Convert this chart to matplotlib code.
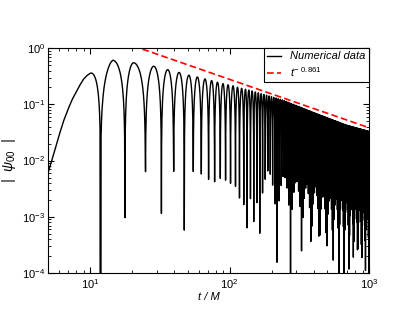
import numpy as np
import matplotlib
matplotlib.use('Agg')
import matplotlib.pyplot as plt

plt.rcParams['font.family'] = ['Liberation Sans', 'DejaVu Sans']
plt.rcParams['mathtext.fontset'] = 'custom'
plt.rcParams['mathtext.rm'] = 'Liberation Sans'
plt.rcParams['mathtext.it'] = 'Liberation Sans:italic'

# initial rise of |psi_00| up to the first peak
rise_t = [5, 5.5, 6, 6.5, 7, 7.5, 8, 8.5, 9, 9.5, 10]
rise_v = [0.0060, 0.0132, 0.0282, 0.0525, 0.0851, 0.126, 0.170, 0.224,
          0.282, 0.324, 0.355]

# zero crossings of |psi_00| (t/M)
zero_times = [11.9, 17.797, 24.97, 32.494, 39.76, 47.396, 54.95, 62.75, 70.76,
              78.16, 85.85, 93.65, 101.65, 110.36, 117.87, 126.48, 133.708,
              141.27, 149.188]
half_period_late = 7.785   # spacing of zeros after t ~ 150
# peak times (first lobes)
peak_times = [10.0, 14.6, 20.6]

# envelope (peak height) of |psi_00|
env_t = [10, 14.6, 20.6, 28.3, 35.3, 43.5, 51.2, 59.4, 68.2, 76.7, 85.9,
         95.6, 105.8, 118, 130, 143, 240, 417, 683, 1000]
env_a = [0.355, 0.61, 0.55, 0.48, 0.42, 0.37, 0.33, 0.305, 0.28, 0.26, 0.24,
         0.226, 0.214, 0.197, 0.186, 0.175, 0.12, 0.069, 0.043, 0.033]

# power law tail fit
fit_coeff = 14.7
fit_exp = -0.861

# output time steps of the run: dt = 0.1 up to t = 150, then dt = 0.25
t = np.concatenate([np.arange(50, 1500) / 10.0, np.arange(600, 4001) / 4.0])

late = zero_times[-1] + half_period_late * np.arange(1, 120)
zeros = np.concatenate([zero_times, late])
pt = np.concatenate([zeros, peak_times])
pv = np.concatenate([np.arange(len(zeros)) + 1, np.arange(len(peak_times)) + 0.5])
order = np.argsort(pt)
phi = np.interp(t, pt[order], pv[order])
amp = np.exp(np.interp(np.log(t), np.log(env_t), np.log(env_a)))
psi = amp * np.abs(np.sin(np.pi * phi))
early = t <= rise_t[-1]
psi[early] = np.exp(np.interp(np.log(t[early]), np.log(rise_t), np.log(rise_v)))

fig = plt.figure(figsize=(4.15, 3.21), dpi=100)
ax = fig.add_axes([0.1157, 0.1495, 0.7735, 0.7005])

ax.plot(t, psi, color='black', lw=1.0, label='Numerical data')
ax.plot(t, fit_coeff * t ** fit_exp, color='red', lw=1.2, dashes=(4, 2),
        label=r'$\mathit{t}^{\mathit{-\ 0.861}}$')

ax.set_xscale('log')
ax.set_yscale('log')
ax.set_xlim(5, 1000)
ax.set_ylim(1e-4, 1)

ax.tick_params(which='both', direction='in', top=True, right=True, labelsize=8)
ax.tick_params(which='major', length=4, width=0.8, pad=3)
ax.tick_params(which='minor', length=2, width=0.6)
ax.tick_params(axis='y', which='major', pad=2)

ax.set_xlabel('t / M', fontsize=8, style='italic', labelpad=1)
ax.set_ylabel(r'|  ψ$_{\mathit{00}}$  |', fontsize=10, style='italic', labelpad=3)

leg = ax.legend(loc='upper right', borderaxespad=0, fancybox=False,
                edgecolor='black', framealpha=1, handlelength=1.3,
                handletextpad=0.8, labelspacing=0.3, borderpad=0.3,
                prop={'style': 'italic', 'size': 8})
leg.get_frame().set_linewidth(0.8)

fig.savefig('out.png', dpi=100)
